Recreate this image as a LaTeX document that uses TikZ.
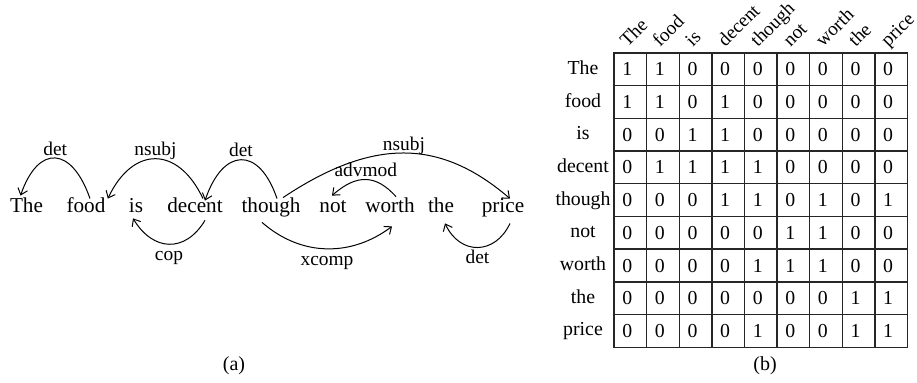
\documentclass[tikz,border=0pt]{standalone}
\usepackage{fontspec}
\setmainfont{Liberation Serif}
\usetikzlibrary{arrows.meta}

\begin{document}
\begin{tikzpicture}[
      x=0.5pt, y=-0.5pt,
      word/.style={font=\fontsize{10.6}{12}\selectfont, inner sep=0pt, text height=0.7em, text depth=0.2em, anchor=base},
      rel/.style={-{Straight Barb[length=3pt,width=5pt]}, line width=0.5pt},
      lblup/.style={font=\fontsize{9.7}{11}\selectfont, above, inner sep=1.2pt, text depth=0pt},
      lbldown/.style={font=\fontsize{9.7}{11}\selectfont, below, inner sep=1pt, text height=0.7em},
      cell/.style={draw=black!85, line width=0.7pt, minimum width=16.3pt, minimum height=16.35pt, inner sep=0pt,
        font=\fontsize{9.9}{11}\selectfont, execute at begin node={\hspace*{-3pt}}},
      tlabel/.style={font=\fontsize{9.9}{11}\selectfont, inner sep=0pt, text height=0.7em, text depth=0.2em},
      colhead/.style={font=\fontsize{9.6}{11}\selectfont, inner sep=0pt, anchor=base west, rotate=45},
      caption/.style={font=\fontsize{10}{12}\selectfont, inner sep=0pt}
    ]
    \useasboundingbox (0,0) rectangle (917,383);

    % (a) the sentence
    \node[word] (the1) at (26.5,213) {The};
    \node[word] (food) at (86,213) {food};
    \node[word] (is) at (136,213) {is};
    \node[word] (decent) at (195,213) {decent};
    \node[word] (though) at (271,213) {though};
    \node[word] (not) at (333,213) {not};
    \node[word] (worth) at (390,213) {worth};
    \node[word] (the2) at (441,213) {the};
    \node[word] (price) at (503,213) {price};

    % arcs above the words
    \draw[rel] ([xshift=2pt]food.north) .. controls +(-18,-52) and +(18,-52) .. ([xshift=-3pt,yshift=1.5pt]the1.north)
      node[lblup, midway] (l1) {det};
    \draw[rel] ([xshift=4pt]decent.north) .. controls +(-25,-53) and +(25,-53) .. ([xshift=1pt]food.north east)
      node[lblup, midway] (l2) {nsubj};
    \draw[rel] ([xshift=3pt]though.north) .. controls +(-18,-53) and +(18,-53) .. ([xshift=5pt,yshift=-1pt]decent.north)
      node[lblup, midway] (l3) {det};
    \draw[rel] ([xshift=6pt,yshift=0.5pt]though.north) .. controls +(90,-60) and +(-70,-60) .. ([xshift=3.5pt]price.north)
      node[lblup, midway] (l4) {nsubj};
    \draw[rel] ([xshift=3pt,yshift=1pt]worth.north) .. controls +(-20,-22) and +(25,-22) .. ([xshift=-0.5pt,yshift=1.5pt]not.north)
      node[lblup, midway] (l5) {advmod};

    % arcs below the words
    \draw[rel] ([xshift=5pt,yshift=-1.5pt]decent.south) .. controls +(-20,33) and +(20,33) .. ([xshift=-1.5pt,yshift=-0.5pt]is.south)
      node[lbldown, midway] (l6) {cop};
    \draw[rel] ([xshift=-4.5pt,yshift=-2.5pt]though.south) .. controls +(40,35) and +(-40,30) .. ([xshift=1pt,yshift=-4.5pt]worth.south)
      node[lbldown, midway] (l7) {xcomp};
    \draw[rel] ([xshift=3.5pt,yshift=-3pt]price.south) .. controls +(-15,32) and +(15,32) .. ([xshift=2pt,yshift=-3pt]the2.south)
      node[lbldown, midway] (l8) {det};

    \node[caption] (capA) at (234,366) {(a)};

    % (b) the matrix
    \foreach \row [count=\r] in {
        {1,1,0,0,0,0,0,0,0},
        {1,1,0,1,0,0,0,0,0},
        {0,0,1,1,0,0,0,0,0},
        {0,1,1,1,1,0,0,0,0},
        {0,0,0,1,1,0,1,0,1},
        {0,0,0,0,0,1,1,0,0},
        {0,0,0,0,1,1,1,0,0},
        {0,0,0,0,0,0,0,1,1},
        {0,0,0,0,1,0,0,1,1}} {
      \foreach \v [count=\c] in \row {
        \node[cell] (c-\r-\c) at ({614+32.6*(\c-0.5)}, {53+32.7*(\r-0.5)}) {\v};
      }
    }

    \foreach \w [count=\i] in {The,food,is,decent,though,not,worth,the,price} {
      \node[tlabel] (row-\i) at (583, {53+32.7*(\i-0.5)}) {\w};
      \node[colhead] (col-\i) at ({614+32.6*(\i-0.5)-3}, 48) {\w};
    }

    \node[caption] (capB) at (765,366) {(b)};

  \end{tikzpicture}
\end{document}
